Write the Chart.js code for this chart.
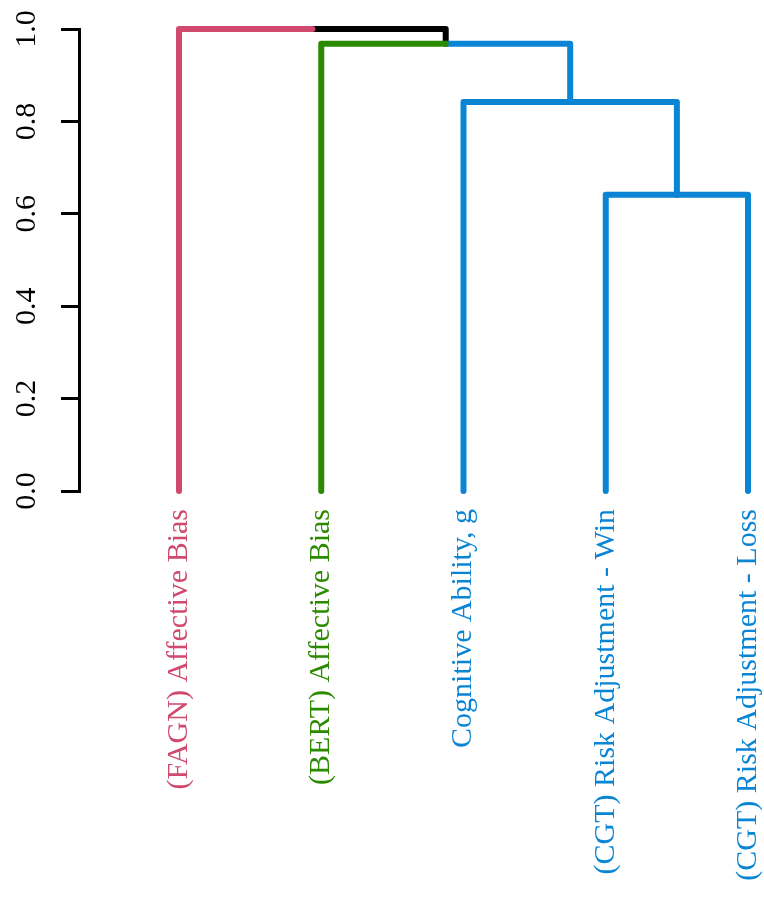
<!DOCTYPE html>
<html>
<head>
<meta charset="utf-8">
<title>Dendrogram</title>
<script src="https://cdn.jsdelivr.net/npm/chart.js@4/dist/chart.umd.min.js"></script>
<style>
  html, body { margin: 0; padding: 0; background: #ffffff; }
  #wrap { width: 764px; height: 900px; }
</style>
</head>
<body>
<div id="wrap"><canvas id="c" width="764" height="900"></canvas></div>
<script>
// Leaves, left to right
const leafLabels = [
  "(FAGN) Affective Bias",
  "(BERT) Affective Bias",
  "Cognitive Ability, g",
  "(CGT) Risk Adjustment - Win",
  "(CGT) Risk Adjustment - Loss"
];
// Cluster group of each leaf and the colour of each group
const leafGroups = [0, 1, 2, 2, 2];
const groupColors = ["#CF4A6E", "#2B8A00", "#0A85D4"];
const mixedColor = "#000000";

// Merge steps: negative = leaf (1-based), positive = earlier merge (1-based)
const mergePairs = [[-4, -5], [-3, 1], [-2, 2], [-1, 3]];
const mergeHeights = [0.641, 0.842, 0.968, 1.0];

// Y-axis ticks
const yTicks = [0, 0.2, 0.4, 0.6, 0.8, 1.0];

// Build node positions and branch colours from the merge table
const leafNodes = leafLabels.map((name, i) => ({
  x: i + 1, h: 0, color: groupColors[leafGroups[i]]
}));
const mergeNodes = [];
function nodeOf(ref) { return ref < 0 ? leafNodes[-ref - 1] : mergeNodes[ref - 1]; }
mergePairs.forEach((pair, k) => {
  const a = nodeOf(pair[0]), b = nodeOf(pair[1]);
  mergeNodes.push({
    x: (a.x + b.x) / 2,
    h: mergeHeights[k],
    color: a.color === b.color ? a.color : mixedColor,
    kids: [a, b]
  });
});

// Each child gets an elbow: up from its own height, then across to the parent's midpoint
const datasets = [];
mergeNodes.forEach(node => {
  node.kids.forEach(kid => {
    datasets.push({
      data: [
        { x: kid.x, y: kid.h },
        { x: kid.x, y: node.h },
        { x: node.x, y: node.h }
      ],
      borderColor: kid.color,
      backgroundColor: kid.color,
      borderWidth: 6,
      borderCapStyle: 'round',
      borderJoinStyle: 'round',
      pointRadius: 0,
      showLine: true,
      tension: 0,
      clip: false
    });
  });
});

const serif = "'Liberation Serif', 'Times New Roman', serif";
const leafPositions = leafNodes.map(n => n.x);

new Chart(document.getElementById('c'), {
  type: 'scatter',
  data: { datasets },
  options: {
    responsive: false,
    animation: false,
    events: [],
    layout: { padding: { top: 29, right: 0, bottom: 0, left: 0 } },
    plugins: { legend: { display: false }, tooltip: { enabled: false } },
    scales: {
      x: {
        type: 'linear',
        min: 0.297,
        max: 5.1125,
        grid: { display: false, drawTicks: false },
        border: { display: false },
        afterBuildTicks: (scale) => {
          scale.ticks = leafPositions.map(v => ({ value: v }));
        },
        afterFit: (scale) => {
          scale.height = 409;
          scale.paddingLeft = 0;
          scale.paddingRight = 0;
        },
        ticks: {
          autoSkip: false,
          minRotation: 90,
          maxRotation: 90,
          padding: 18,
          font: { family: serif, size: 30 },
          color: (ctx) => groupColors[leafGroups[ctx.index]] || '#000',
          callback: (value, index) => leafLabels[index]
        }
      },
      y: {
        type: 'linear',
        min: 0,
        max: 1,
        afterBuildTicks: (scale) => {
          scale.ticks = yTicks.map(v => ({ value: v }));
        },
        afterFit: (scale) => {
          scale.width = 79;
          scale.paddingTop = 0;
          scale.paddingBottom = 0;
        },
        grid: {
          drawOnChartArea: false,
          drawTicks: true,
          tickLength: 18,
          tickWidth: 3,
          tickColor: '#000',
          color: '#000',
          lineWidth: 3
        },
        border: { display: true, color: '#000', width: 3 },
        ticks: {
          minRotation: 90,
          maxRotation: 90,
          crossAlign: 'center',
          padding: 15,
          color: '#000',
          font: { family: serif, size: 30 },
          callback: (value) => Number(value).toFixed(1)
        }
      }
    }
  }
});
</script>
</body>
</html>
